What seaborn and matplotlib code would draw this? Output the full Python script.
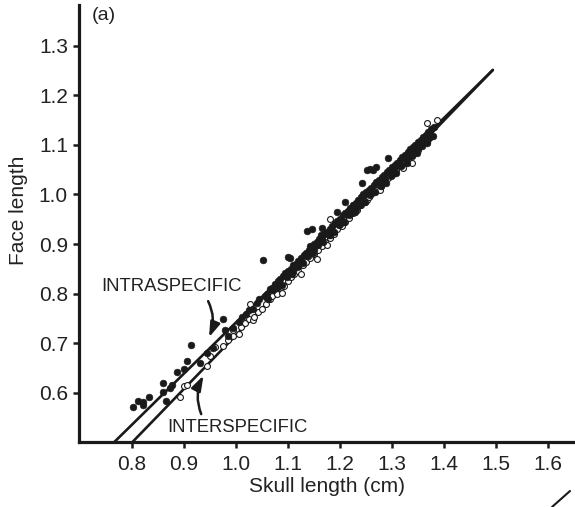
import matplotlib
matplotlib.use("Agg")
import matplotlib.pyplot as plt
from matplotlib.lines import Line2D
import seaborn as sns
import pandas as pd

# ---- data ----
intra_x = [0.802, 0.812, 0.821, 0.821, 0.833, 0.860, 0.860, 0.865, 0.873, 0.877,
           0.887, 0.900, 0.906, 0.913, 0.930, 0.945, 0.955, 0.975, 0.979, 0.985,
           0.995, 1.005, 1.012, 1.020, 1.025, 1.032, 1.040, 1.045, 1.052, 1.055,
           1.060, 1.066, 1.070, 1.075, 1.080, 1.085, 1.090, 1.095, 1.100, 1.100,
           1.104, 1.105, 1.110, 1.115, 1.120, 1.125, 1.130, 1.137, 1.135, 1.140,
           1.146, 1.145, 1.150, 1.155, 1.160, 1.166, 1.165, 1.170, 1.175, 1.180,
           1.185, 1.194, 1.190, 1.195, 1.200, 1.205, 1.210, 1.210, 1.215, 1.220,
           1.225, 1.230, 1.235, 1.242, 1.240, 1.245, 1.250, 1.255, 1.260, 1.265,
           1.270, 1.275, 1.280, 1.285, 1.292, 1.290, 1.295, 1.300, 1.305, 1.310,
           1.315, 1.320, 1.325, 1.330, 1.335, 1.340, 1.345, 1.350, 1.355, 1.360,
           1.365, 1.370, 1.375, 1.380, 1.252, 1.258, 1.264, 1.270, 1.300, 1.110,
           1.150, 1.200, 1.230, 1.330, 1.350, 1.060, 1.080, 1.120, 1.180, 1.280,
           1.318, 1.342, 1.362, 1.372,
           1.062, 1.072, 1.088, 1.098, 1.108, 1.118, 1.128, 1.138, 1.148, 1.158,
           1.168, 1.178, 1.188, 1.198, 1.208, 1.218, 1.228, 1.238, 1.248, 1.258,
           1.268, 1.278, 1.288, 1.298, 1.308, 1.318, 1.328, 1.338, 1.348, 1.358,
           1.368, 1.378, 1.222, 1.246, 1.286, 1.306, 1.326, 1.356, 1.164, 1.142]
intra_y = [0.572, 0.584, 0.582, 0.576, 0.592, 0.602, 0.620, 0.584, 0.610, 0.616,
           0.642, 0.648, 0.665, 0.697, 0.660, 0.680, 0.690, 0.749, 0.727, 0.715,
           0.730, 0.742, 0.752, 0.760, 0.768, 0.770, 0.782, 0.790, 0.868, 0.795,
           0.800, 0.810, 0.812, 0.820, 0.826, 0.830, 0.835, 0.842, 0.874, 0.846,
           0.872, 0.850, 0.858, 0.860, 0.866, 0.872, 0.878, 0.927, 0.882, 0.888,
           0.930, 0.893, 0.900, 0.904, 0.910, 0.932, 0.915, 0.920, 0.925, 0.930,
           0.936, 0.965, 0.942, 0.946, 0.950, 0.958, 0.985, 0.962, 0.966, 0.972,
           0.978, 0.982, 0.988, 1.023, 0.994, 1.000, 1.004, 1.010, 1.014, 1.020,
           1.026, 1.030, 1.035, 1.040, 1.074, 1.046, 1.050, 1.055, 1.060, 1.064,
           1.070, 1.076, 1.080, 1.086, 1.092, 1.096, 1.100, 1.106, 1.110, 1.116,
           1.120, 1.126, 1.132, 1.136, 1.050, 1.052, 1.050, 1.056, 1.044, 0.846,
           0.888, 0.940, 0.970, 1.076, 1.094, 0.792, 0.814, 0.856, 0.918, 1.022,
           1.060, 1.084, 1.104, 1.114,
           0.790, 0.808, 0.818, 0.834, 0.840, 0.854, 0.862, 0.876, 0.882, 0.898,
           0.904, 0.918, 0.924, 0.938, 0.944, 0.958, 0.964, 0.978, 0.984, 0.998,
           1.004, 1.018, 1.024, 1.038, 1.044, 1.058, 1.064, 1.078, 1.084, 1.098,
           1.104, 1.118, 0.962, 0.998, 1.032, 1.056, 1.072, 1.108, 0.918, 0.896]

inter_x = [0.892, 0.900, 0.906, 0.945, 0.950, 0.960, 0.975, 0.985, 0.994, 0.995,
           1.005, 1.010, 1.018, 1.027, 1.025, 1.033, 1.035, 1.042, 1.050, 1.058,
           1.063, 1.065, 1.070, 1.078, 1.085, 1.088, 1.092, 1.100, 1.105, 1.112,
           1.120, 1.125, 1.128, 1.135, 1.142, 1.150, 1.155, 1.158, 1.165, 1.172,
           1.175, 1.180, 1.181, 1.188, 1.195, 1.203, 1.210, 1.218, 1.225, 1.225,
           1.232, 1.240, 1.248, 1.252, 1.255, 1.262, 1.270, 1.277, 1.278, 1.285,
           1.292, 1.300, 1.308, 1.315, 1.321, 1.322, 1.330, 1.338, 1.338, 1.345,
           1.350, 1.352, 1.360, 1.367, 1.367, 1.368, 1.375, 1.387]
inter_y = [0.592, 0.614, 0.616, 0.655, 0.675, 0.693, 0.694, 0.706, 0.727, 0.714,
           0.718, 0.732, 0.740, 0.779, 0.748, 0.747, 0.754, 0.764, 0.770, 0.780,
           0.790, 0.790, 0.796, 0.800, 0.812, 0.802, 0.816, 0.826, 0.834, 0.840,
           0.846, 0.840, 0.858, 0.864, 0.872, 0.880, 0.870, 0.888, 0.896, 0.904,
           0.898, 0.912, 0.951, 0.920, 0.930, 0.936, 0.944, 0.952, 0.962, 0.979,
           0.968, 0.978, 0.984, 0.989, 0.994, 1.002, 1.010, 1.009, 1.018, 1.026,
           1.034, 1.040, 1.050, 1.058, 1.054, 1.064, 1.072, 1.064, 1.080, 1.090,
           1.090, 1.096, 1.104, 1.144, 1.106, 1.112, 1.118, 1.150]

intra_line_x = [0.765, 1.494]
intra_line_y = [0.500, 1.251]
inter_line_x = [0.800, 1.494]
inter_line_y = [0.500, 1.251]

x_ticks = [0.8, 0.9, 1.0, 1.1, 1.2, 1.3, 1.4, 1.5, 1.6]
y_ticks = [0.6, 0.7, 0.8, 0.9, 1.0, 1.1, 1.2, 1.3]

# ---- style ----
sns.set_style("ticks")
plt.rcParams['font.family'] = ['Liberation Sans', 'DejaVu Sans']

fig = plt.figure(figsize=(5.75, 5.07), dpi=100)
ax = fig.add_axes([79/575, 1 - 442/507, 496/575, 437/507])

df_intra = pd.DataFrame({"x": intra_x, "y": intra_y})
df_inter = pd.DataFrame({"x": inter_x, "y": inter_y})

ink = "#1a1a1a"
txt = "#222222"

sns.lineplot(x=intra_line_x, y=intra_line_y, ax=ax, color=ink, linewidth=1.9,
             estimator=None, sort=False)
sns.lineplot(x=inter_line_x, y=inter_line_y, ax=ax, color=ink, linewidth=1.9,
             estimator=None, sort=False)
sns.scatterplot(data=df_inter, x="x", y="y", ax=ax, marker="o", s=18,
                facecolor="white", edgecolor=ink, linewidth=0.8, zorder=3)
sns.scatterplot(data=df_intra, x="x", y="y", ax=ax, marker="o", s=24,
                color=ink, edgecolor=ink, linewidth=0.4, zorder=4)

ax.set_xlim(0.698, 1.652)
ax.set_ylim(0.501, 1.382)
ax.set_xticks(x_ticks)
ax.set_xticklabels([f"{v:.1f}" for v in x_ticks])
ax.set_yticks(y_ticks)
ax.set_yticklabels([f"{v:.1f}" for v in y_ticks])

for s in ["top", "right"]:
    ax.spines[s].set_visible(False)
for s in ["left", "bottom"]:
    ax.spines[s].set_linewidth(2.3)
    ax.spines[s].set_color(ink)

ax.tick_params(axis="both", direction="out", length=4, width=1.8,
               colors=ink, labelsize=15, labelcolor=txt)
ax.tick_params(axis="x", pad=5)
ax.tick_params(axis="y", pad=4)

ax.set_xlabel("Skull length (cm)", fontsize=15, color=txt)
ax.set_ylabel("Face length", fontsize=15, color=txt)
ax.yaxis.set_label_coords(-0.102, 0.53)
ax.xaxis.set_label_coords(0.5, -0.080)

ax.text(0.026, 0.975, "(a)", transform=ax.transAxes, fontsize=14,
        color=txt, va="center", ha="left")
ax.text(0.740, 0.814, "INTRASPECIFIC", fontsize=13.3, color=txt,
        va="center", ha="left")
ax.text(0.867, 0.531, "INTERSPECIFIC", fontsize=13.3, color=txt,
        va="center", ha="left")

ax.annotate("", xy=(0.946, 0.707), xytext=(0.944, 0.790),
            arrowprops=dict(arrowstyle="-|>,head_length=0.9,head_width=0.3",
                            connectionstyle="arc3,rad=-0.25", color=ink,
                            linewidth=1.8))
ax.annotate("", xy=(0.940, 0.640), xytext=(0.935, 0.552),
            arrowprops=dict(arrowstyle="-|>,head_length=0.9,head_width=0.3",
                            connectionstyle="arc3,rad=-0.25", color=ink,
                            linewidth=1.8))

fig.add_artist(Line2D([552/575, 570/575], [0.0, 16/507], transform=fig.transFigure,
                      color=ink, linewidth=1.5))

fig.savefig("out.png", dpi=100)
